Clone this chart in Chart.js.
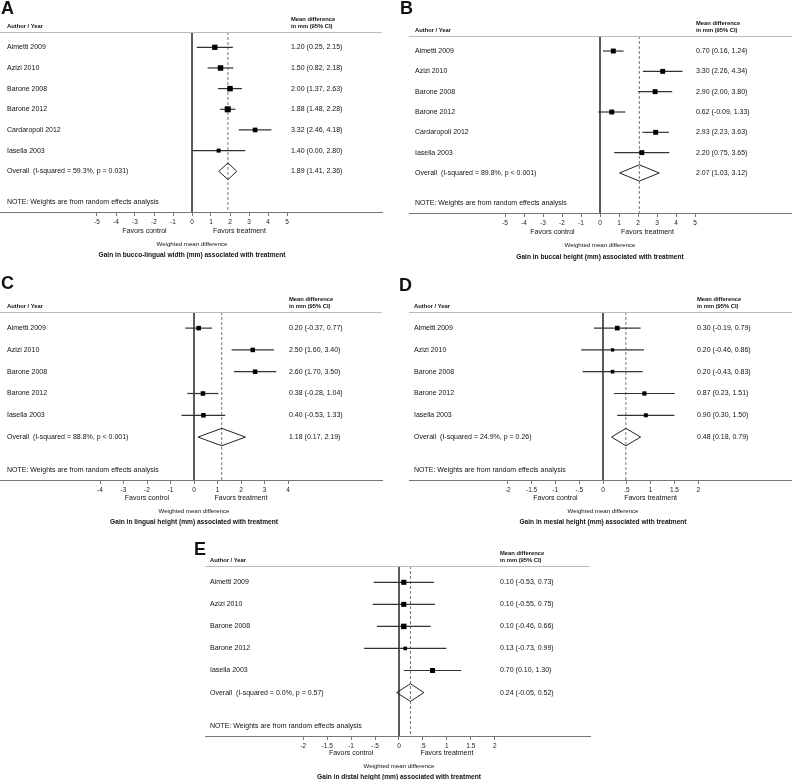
<!DOCTYPE html>
<html><head><meta charset="utf-8">
<script src="https://cdn.jsdelivr.net/npm/chart.js@4.4.1/dist/chart.umd.min.js"></script>
<style>
html,body{margin:0;padding:0;background:#fff;}
#wrap{position:relative;width:792px;height:780px;overflow:hidden;background:#fff;}
canvas{position:absolute;}
</style></head><body><div id="wrap"></div>
<script>
// ---------- DATA ----------
const studiesA = ['Aimetti 2009', 'Azizi 2010', 'Barone 2008', 'Barone 2012', 'Cardaropoli 2012', 'Iasella 2003'];
const estA  = [1.20, 1.50, 2.00, 1.88, 3.32, 1.40];
const lowA  = [0.25, 0.82, 1.37, 1.48, 2.46, 0.00];
const highA = [2.15, 2.18, 2.63, 2.28, 4.18, 2.80];
const weightsA = [23, 25, 25, 30, 18, 13];
const overallA = [1.89, 1.41, 2.36];
const i2A = 59.3, pA = 'p = 0.031';
const titleA = 'Gain in bucco-lingual width (mm) associated with treatment';

const studiesB = ['Aimetti 2009', 'Azizi 2010', 'Barone 2008', 'Barone 2012', 'Cardaropoli 2012', 'Iasella 2003'];
const estB  = [0.70, 3.30, 2.90, 0.62, 2.93, 2.20];
const lowB  = [0.16, 2.26, 2.00, -0.09, 2.23, 0.75];
const highB = [1.24, 4.34, 3.80, 1.33, 3.63, 3.65];
const weightsB = [20, 20, 20, 20, 20, 20];
const overallB = [2.07, 1.03, 3.12];
const i2B = 89.8, pB = 'p < 0.001';
const titleB = 'Gain in buccal height (mm) associated with treatment';

const studiesC = ['Aimetti 2009', 'Azizi 2010', 'Barone 2008', 'Barone 2012', 'Iasella 2003'];
const estC  = [0.20, 2.50, 2.60, 0.38, 0.40];
const lowC  = [-0.37, 1.60, 1.70, -0.28, -0.53];
const highC = [0.77, 3.40, 3.50, 1.04, 1.33];
const weightsC = [17, 17, 17, 17, 17];
const overallC = [1.18, 0.17, 2.19];
const i2C = 88.8, pC = 'p < 0.001';
const titleC = 'Gain in lingual height (mm) associated with treatment';

const studiesD = ['Aimetti 2009', 'Azizi 2010', 'Barone 2008', 'Barone 2012', 'Iasella 2003'];
const estD  = [0.30, 0.20, 0.20, 0.87, 0.90];
const lowD  = [-0.19, -0.46, -0.43, 0.23, 0.30];
const highD = [0.79, 0.86, 0.83, 1.51, 1.50];
const weightsD = [18, 9, 11, 15, 13];
const overallD = [0.48, 0.18, 0.79];
const i2D = 24.9, pD = 'p = 0.26';
const titleD = 'Gain in mesial height (mm) associated with treatment';

const studiesE = ['Aimetti 2009', 'Azizi 2010', 'Barone 2008', 'Barone 2012', 'Iasella 2003'];
const estE  = [0.10, 0.10, 0.10, 0.13, 0.70];
const lowE  = [-0.53, -0.55, -0.46, -0.73, 0.10];
const highE = [0.73, 0.75, 0.66, 0.99, 1.30];
const weightsE = [21, 21, 25, 11, 21];
const overallE = [0.24, -0.05, 0.52];
const i2E = 0.0, pE = 'p = 0.57';
const titleE = 'Gain in distal height (mm) associated with treatment';

const ticksAB = [-5, -4, -3, -2, -1, 0, 1, 2, 3, 4, 5];
const tickLabelsAB = ['-5', '-4', '-3', '-2', '-1', '0', '1', '2', '3', '4', '5'];
const ticksC = [-4, -3, -2, -1, 0, 1, 2, 3, 4];
const tickLabelsC = ['-4', '-3', '-2', '-1', '0', '1', '2', '3', '4'];
const ticksDE = [-2, -1.5, -1, -0.5, 0, 0.5, 1, 1.5, 2];
const tickLabelsDE = ['-2', '-1.5', '-1', '-.5', '0', '.5', '1', '1.5', '2'];

const headerLeft = 'Author / Year';
const headerRight1 = 'Mean difference';
const headerRight2 = 'in mm (95% CI)';
const noteText = 'NOTE: Weights are from random effects analysis';
const favorsLeft = 'Favors control';
const favorsRight = 'Favors treatment';
const xTitle = 'Weighted mean difference';

// ---------- RENDERING ----------
const FONT = 'Arial, "Liberation Sans", Helvetica, sans-serif';
const TXT = '#111';

function txt(ctx, s, x, y, size, bold, align) {
  ctx.font = (bold ? 'bold ' : '') + size + 'px ' + FONT;
  ctx.textAlign = align || 'left';
  ctx.textBaseline = 'middle';
  ctx.fillStyle = TXT;
  ctx.fillText(s, x, y);
}

function makePanel(p) {
  const n = p.studies.length;
  const yMin = -0.74, yMax = n + 1.97;
  const c = document.createElement('canvas');
  c.width = p.box.w; c.height = p.box.h;
  c.style.left = p.box.x + 'px'; c.style.top = p.box.y + 'px';
  c.style.width = p.box.w + 'px'; c.style.height = p.box.h + 'px';
  document.getElementById('wrap').appendChild(c);
  const a = p.area;
  const AXH = 12;
  const xMin = (a.left - p.zeroPx) / p.unitPx;
  const xMax = (a.right - p.zeroPx) / p.unitPx;

  const ds = [];
  ds.push({
    data: p.est.map((v, i) => ({x: v, y: i})),
    pointStyle: 'rect',
    pointRadius: p.weights.map(w => 1.1 * Math.sqrt(w) / (2 * Math.SQRT1_2)),
    pointHoverRadius: p.weights.map(w => 1.1 * Math.sqrt(w) / (2 * Math.SQRT1_2)),
    backgroundColor: '#000', borderWidth: 0, showLine: false, order: 0
  });
  const ov = p.overall, h = 0.4;
  ds.push({
    data: [{x: ov[1], y: n}, {x: ov[0], y: n - h}, {x: ov[2], y: n}, {x: ov[0], y: n + h}, {x: ov[1], y: n}],
    showLine: true, pointRadius: 0, borderColor: '#222', borderWidth: 1, tension: 0, fill: false, order: 1
  });
  p.est.forEach((v, i) => {
    ds.push({
      data: [{x: p.low[i], y: i}, {x: p.high[i], y: i}],
      showLine: true, pointRadius: 0, borderColor: '#333', borderWidth: 1.2, order: 2
    });
  });
  ds.push({
    data: [{x: ov[0], y: yMin}, {x: ov[0], y: yMax}],
    showLine: true, pointRadius: 0, borderColor: '#777', borderWidth: 1, borderDash: [3, 2], order: 3
  });
  ds.push({
    data: [{x: 0, y: yMin}, {x: 0, y: yMax}],
    showLine: true, pointRadius: 0, borderColor: '#444', borderWidth: 1, order: 4
  });

  const textPlugin = {
    id: 'forestText' + p.letter,
    afterDraw(chart) {
      const ctx = chart.ctx, xs = chart.scales.x, ys = chart.scales.y, ca = chart.chartArea;
      ctx.save();
      ctx.strokeStyle = '#bbb'; ctx.lineWidth = 1;
      ctx.beginPath(); ctx.moveTo(ca.left, ca.top + 0.5); ctx.lineTo(ca.right, ca.top + 0.5); ctx.stroke();
      txt(ctx, p.letter, p.letterPos[0], p.letterPos[1], 18, true, 'left');
      txt(ctx, headerLeft, p.labelX, ca.top - 6, 5.8, true);
      txt(ctx, headerRight1, p.valueX, ca.top - 13, 5.8, true);
      txt(ctx, headerRight2, p.valueX, ca.top - 6, 5.8, true);
      p.studies.forEach((s, i) => {
        const y = ys.getPixelForValue(i);
        txt(ctx, s, p.labelX, y, 7, false);
        txt(ctx, p.est[i].toFixed(2) + ' (' + p.low[i].toFixed(2) + ', ' + p.high[i].toFixed(2) + ')', p.valueX, y, 7, false);
      });
      const yo = ys.getPixelForValue(n);
      txt(ctx, 'Overall  (I-squared = ' + p.i2.toFixed(1) + '%, ' + p.pText + ')', p.labelX, yo, 7, false);
      txt(ctx, ov[0].toFixed(2) + ' (' + ov[1].toFixed(2) + ', ' + ov[2].toFixed(2) + ')', p.valueX, yo, 7, false);
      txt(ctx, noteText, p.labelX, ys.getPixelForValue(n + 1.5), 7, false);
      const b = ca.bottom;
      txt(ctx, favorsLeft, xs.getPixelForValue(-p.favorsAt), b + p.off[0], 7, false, 'center');
      txt(ctx, favorsRight, xs.getPixelForValue(p.favorsAt), b + p.off[0], 7, false, 'center');
      txt(ctx, xTitle, xs.getPixelForValue(0), b + p.off[1], 6.1, false, 'center');
      txt(ctx, p.title, xs.getPixelForValue(0), b + p.off[2], 6.6, true, 'center');
      ctx.restore();
    }
  };

  new Chart(c, {
    type: 'scatter',
    data: {datasets: ds},
    options: {
      responsive: false, animation: false, devicePixelRatio: 1,
      layout: {autoPadding: false, padding: {left: a.left, right: p.box.w - a.right, top: a.top, bottom: p.box.h - a.bottom - AXH}},
      plugins: {legend: {display: false}, tooltip: {enabled: false}},
      events: [],
      scales: {
        x: {
          type: 'linear', position: 'bottom', min: xMin, max: xMax,
          afterBuildTicks: s => { s.ticks = p.ticks.map(v => ({value: v})); },
          afterFit: s => { s.height = AXH; },
          ticks: {
            callback: (v, i) => p.tickLabels[i],
            font: {family: FONT, size: 6.5}, color: '#222', padding: 2.5,
            maxRotation: 0, minRotation: 0, autoSkip: false
          },
          grid: {display: true, drawOnChartArea: false, drawTicks: true, tickLength: 4, color: '#777', lineWidth: 1},
          border: {display: true, color: '#777', width: 1}
        },
        y: {type: 'linear', display: false, min: yMin, max: yMax, reverse: true}
      }
    },
    plugins: [textPlugin]
  });
}

makePanel({letter: 'A', box: {x: 0, y: 0, w: 396, h: 262}, area: {left: 0, right: 382, top: 32, bottom: 212},
  zeroPx: 192, unitPx: 19, letterPos: [1, 9], labelX: 7, valueX: 291, favorsAt: 2.5, off: [19, 32.5, 43.5],
  studies: studiesA, est: estA, low: lowA, high: highA, weights: weightsA, overall: overallA, i2: i2A, pText: pA,
  title: titleA, ticks: ticksAB, tickLabels: tickLabelsAB});
makePanel({letter: 'B', box: {x: 396, y: 0, w: 396, h: 262}, area: {left: 13, right: 396, top: 36, bottom: 213},
  zeroPx: 204, unitPx: 19, letterPos: [4, 9], labelX: 19, valueX: 300, favorsAt: 2.5, off: [19.5, 32.5, 44],
  studies: studiesB, est: estB, low: lowB, high: highB, weights: weightsB, overall: overallB, i2: i2B, pText: pB,
  title: titleB, ticks: ticksAB, tickLabels: tickLabelsAB});
makePanel({letter: 'C', box: {x: 0, y: 262, w: 396, h: 272}, area: {left: 0, right: 382, top: 50, bottom: 218},
  zeroPx: 194, unitPx: 23.5, letterPos: [1, 22], labelX: 7, valueX: 289, favorsAt: 2, off: [18.5, 31, 42],
  studies: studiesC, est: estC, low: lowC, high: highC, weights: weightsC, overall: overallC, i2: i2C, pText: pC,
  title: titleC, ticks: ticksC, tickLabels: tickLabelsC});
makePanel({letter: 'D', box: {x: 396, y: 262, w: 396, h: 272}, area: {left: 13, right: 396, top: 50, bottom: 218},
  zeroPx: 207, unitPx: 47.6, letterPos: [3, 24], labelX: 18, valueX: 301, favorsAt: 1, off: [18.5, 31, 42],
  studies: studiesD, est: estD, low: lowD, high: highD, weights: weightsD, overall: overallD, i2: i2D, pText: pD,
  title: titleD, ticks: ticksDE, tickLabels: tickLabelsDE});
makePanel({letter: 'E', box: {x: 190, y: 524, w: 420, h: 256}, area: {left: 15, right: 400, top: 42, bottom: 212},
  zeroPx: 209, unitPx: 47.9, letterPos: [4, 26], labelX: 20, valueX: 310, favorsAt: 1, off: [17.5, 30, 41.5],
  studies: studiesE, est: estE, low: lowE, high: highE, weights: weightsE, overall: overallE, i2: i2E, pText: pE,
  title: titleE, ticks: ticksDE, tickLabels: tickLabelsDE});
</script>
</body></html>
